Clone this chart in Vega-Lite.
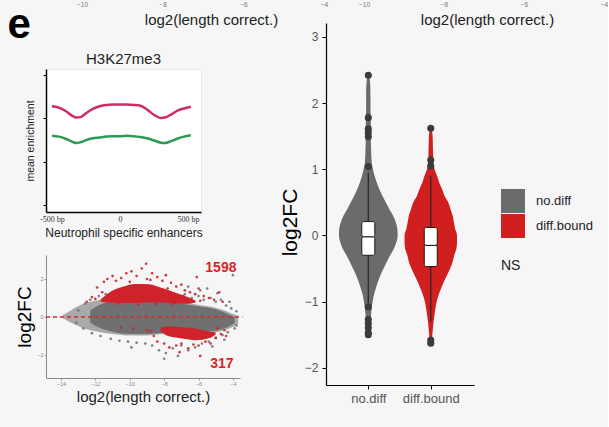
{
  "$schema": "https://vega.github.io/schema/vega-lite/v6.json",
  "background": "#f6f6f6",
  "padding": {"left": 7, "top": 0, "right": 0, "bottom": 0},
  "config": {"font": "Liberation Sans", "view": {"stroke": null}, "axis": {"grid": false}},
  "datasets": {
    "violin": [
      {"g":"no.diff","v":2.42,"xa":0.99,"xb":1.01},{"g":"no.diff","v":2.3,"xa":0.97,"xb":1.03},{"g":"no.diff","v":2.1,"xa":0.965,"xb":1.035},{"g":"no.diff","v":1.9,"xa":0.965,"xb":1.035},{"g":"no.diff","v":1.7,"xa":0.96,"xb":1.04},{"g":"no.diff","v":1.5,"xa":0.96,"xb":1.04},{"g":"no.diff","v":1.3,"xa":0.955,"xb":1.045},{"g":"no.diff","v":1.1,"xa":0.945,"xb":1.055},{"g":"no.diff","v":1.0,"xa":0.925,"xb":1.075},{"g":"no.diff","v":0.9,"xa":0.9,"xb":1.1},{"g":"no.diff","v":0.8,"xa":0.865,"xb":1.135},{"g":"no.diff","v":0.7,"xa":0.825,"xb":1.175},{"g":"no.diff","v":0.6,"xa":0.775,"xb":1.225},{"g":"no.diff","v":0.5,"xa":0.72,"xb":1.28},{"g":"no.diff","v":0.4,"xa":0.665,"xb":1.335},{"g":"no.diff","v":0.3,"xa":0.605,"xb":1.395},{"g":"no.diff","v":0.2,"xa":0.56,"xb":1.44},{"g":"no.diff","v":0.1,"xa":0.535,"xb":1.465},{"g":"no.diff","v":0.0,"xa":0.53,"xb":1.47},{"g":"no.diff","v":-0.1,"xa":0.55,"xb":1.45},{"g":"no.diff","v":-0.2,"xa":0.59,"xb":1.41},{"g":"no.diff","v":-0.3,"xa":0.65,"xb":1.35},{"g":"no.diff","v":-0.4,"xa":0.705,"xb":1.295},{"g":"no.diff","v":-0.5,"xa":0.755,"xb":1.245},{"g":"no.diff","v":-0.6,"xa":0.805,"xb":1.195},{"g":"no.diff","v":-0.7,"xa":0.845,"xb":1.155},{"g":"no.diff","v":-0.8,"xa":0.88,"xb":1.12},{"g":"no.diff","v":-0.9,"xa":0.91,"xb":1.09},{"g":"no.diff","v":-1.0,"xa":0.93,"xb":1.07},{"g":"no.diff","v":-1.1,"xa":0.945,"xb":1.055},{"g":"no.diff","v":-1.2,"xa":0.955,"xb":1.045},{"g":"no.diff","v":-1.3,"xa":0.96,"xb":1.04},{"g":"no.diff","v":-1.4,"xa":0.965,"xb":1.035},{"g":"no.diff","v":-1.5,"xa":0.985,"xb":1.015},
      {"g":"diff.bound","v":1.63,"xa":1.99,"xb":2.01},{"g":"diff.bound","v":1.5,"xa":1.97,"xb":2.03},{"g":"diff.bound","v":1.3,"xa":1.965,"xb":2.035},{"g":"diff.bound","v":1.1,"xa":1.955,"xb":2.045},{"g":"diff.bound","v":1.0,"xa":1.94,"xb":2.06},{"g":"diff.bound","v":0.9,"xa":1.9,"xb":2.1},{"g":"diff.bound","v":0.8,"xa":1.865,"xb":2.135},{"g":"diff.bound","v":0.7,"xa":1.82,"xb":2.18},{"g":"diff.bound","v":0.6,"xa":1.78,"xb":2.22},{"g":"diff.bound","v":0.5,"xa":1.72,"xb":2.28},{"g":"diff.bound","v":0.4,"xa":1.685,"xb":2.315},{"g":"diff.bound","v":0.3,"xa":1.65,"xb":2.35},{"g":"diff.bound","v":0.2,"xa":1.63,"xb":2.37},{"g":"diff.bound","v":0.1,"xa":1.61,"xb":2.39},{"g":"diff.bound","v":0.0,"xa":1.58,"xb":2.42},{"g":"diff.bound","v":-0.1,"xa":1.58,"xb":2.42},{"g":"diff.bound","v":-0.2,"xa":1.59,"xb":2.41},{"g":"diff.bound","v":-0.3,"xa":1.625,"xb":2.375},{"g":"diff.bound","v":-0.4,"xa":1.65,"xb":2.35},{"g":"diff.bound","v":-0.5,"xa":1.69,"xb":2.31},{"g":"diff.bound","v":-0.6,"xa":1.74,"xb":2.26},{"g":"diff.bound","v":-0.7,"xa":1.79,"xb":2.21},{"g":"diff.bound","v":-0.8,"xa":1.835,"xb":2.165},{"g":"diff.bound","v":-0.9,"xa":1.875,"xb":2.125},{"g":"diff.bound","v":-1.0,"xa":1.905,"xb":2.095},{"g":"diff.bound","v":-1.1,"xa":1.925,"xb":2.075},{"g":"diff.bound","v":-1.2,"xa":1.94,"xb":2.06},{"g":"diff.bound","v":-1.3,"xa":1.955,"xb":2.045},{"g":"diff.bound","v":-1.4,"xa":1.965,"xb":2.035},{"g":"diff.bound","v":-1.5,"xa":1.975,"xb":2.025},{"g":"diff.bound","v":-1.6,"xa":1.985,"xb":2.015},{"g":"diff.bound","v":-1.64,"xa":1.995,"xb":2.005}
    ],
    "box": [
      {"g":"no.diff","part":"whisker","xa":1,"v":-1.03,"v2":0.95},
      {"g":"no.diff","part":"lower","xa":1,"v":-0.30,"v2":-0.02},
      {"g":"no.diff","part":"upper","xa":1,"v":-0.02,"v2":0.21},
      {"g":"diff.bound","part":"whisker","xa":2,"v":-1.3,"v2":0.9},
      {"g":"diff.bound","part":"lower","xa":2,"v":-0.47,"v2":-0.15},
      {"g":"diff.bound","part":"upper","xa":2,"v":-0.15,"v2":0.12}
    ],
    "outl": [
      {"g":"no.diff","xa":1,"v":2.42},{"g":"no.diff","xa":1,"v":1.78},{"g":"no.diff","xa":1,"v":1.61},{"g":"no.diff","xa":1,"v":1.55},{"g":"no.diff","xa":1,"v":1.49},{"g":"no.diff","xa":1,"v":1.04},{"g":"no.diff","xa":1,"v":-1.08},{"g":"no.diff","xa":1,"v":-1.27},{"g":"no.diff","xa":1,"v":-1.33},{"g":"no.diff","xa":1,"v":-1.4},{"g":"no.diff","xa":1,"v":-1.47},{"g":"no.diff","xa":1,"v":-1.5},
      {"g":"diff.bound","xa":2,"v":1.62},{"g":"diff.bound","xa":2,"v":1.14},{"g":"diff.bound","xa":2,"v":1.05},{"g":"diff.bound","xa":2,"v":-1.58},{"g":"diff.bound","xa":2,"v":-1.63}
    ],
    "profile": [
      {"series":"upper","pos":-500,"enr":2.28},{"series":"upper","pos":-450,"enr":2.25},{"series":"upper","pos":-400,"enr":2.17},{"series":"upper","pos":-350,"enr":2.06},{"series":"upper","pos":-320,"enr":2.02},{"series":"upper","pos":-290,"enr":2.03},{"series":"upper","pos":-250,"enr":2.12},{"series":"upper","pos":-200,"enr":2.22},{"series":"upper","pos":-150,"enr":2.28},{"series":"upper","pos":-100,"enr":2.31},{"series":"upper","pos":-50,"enr":2.32},{"series":"upper","pos":0,"enr":2.32},{"series":"upper","pos":50,"enr":2.32},{"series":"upper","pos":100,"enr":2.31},{"series":"upper","pos":150,"enr":2.29},{"series":"upper","pos":200,"enr":2.2},{"series":"upper","pos":250,"enr":2.08},{"series":"upper","pos":300,"enr":2.01},{"series":"upper","pos":330,"enr":2.02},{"series":"upper","pos":380,"enr":2.1},{"series":"upper","pos":430,"enr":2.19},{"series":"upper","pos":470,"enr":2.23},{"series":"upper","pos":520,"enr":2.27},
      {"series":"lower","pos":-500,"enr":1.6},{"series":"lower","pos":-450,"enr":1.58},{"series":"lower","pos":-400,"enr":1.53},{"series":"lower","pos":-350,"enr":1.46},{"series":"lower","pos":-320,"enr":1.43},{"series":"lower","pos":-290,"enr":1.45},{"series":"lower","pos":-250,"enr":1.5},{"series":"lower","pos":-200,"enr":1.54},{"series":"lower","pos":-150,"enr":1.56},{"series":"lower","pos":-100,"enr":1.58},{"series":"lower","pos":-50,"enr":1.59},{"series":"lower","pos":0,"enr":1.59},{"series":"lower","pos":50,"enr":1.6},{"series":"lower","pos":100,"enr":1.59},{"series":"lower","pos":150,"enr":1.57},{"series":"lower","pos":200,"enr":1.54},{"series":"lower","pos":250,"enr":1.49},{"series":"lower","pos":300,"enr":1.44},{"series":"lower","pos":330,"enr":1.43},{"series":"lower","pos":370,"enr":1.47},{"series":"lower","pos":420,"enr":1.53},{"series":"lower","pos":470,"enr":1.58},{"series":"lower","pos":520,"enr":1.61}
    ],
    "maArea": [
      {"grp":"halo","A":-13.9,"M":-0.05,"M2":0.1},{"grp":"halo","A":-13.4,"M":-0.3,"M2":0.36},{"grp":"halo","A":-12.8,"M":-0.55,"M2":0.65},{"grp":"halo","A":-12.0,"M":-0.75,"M2":0.85},{"grp":"halo","A":-11.0,"M":-0.9,"M2":0.98},{"grp":"halo","A":-10.0,"M":-0.98,"M2":1.04},{"grp":"halo","A":-9.0,"M":-0.98,"M2":1.0},{"grp":"halo","A":-8.0,"M":-0.9,"M2":0.88},{"grp":"halo","A":-7.0,"M":-0.9,"M2":0.78},{"grp":"halo","A":-6.0,"M":-0.85,"M2":0.64},{"grp":"halo","A":-5.0,"M":-0.8,"M2":0.48},{"grp":"halo","A":-4.2,"M":-0.6,"M2":0.24},{"grp":"halo","A":-3.7,"M":-0.4,"M2":0.06},
      {"grp":"core","A":-12.3,"M":-0.3,"M2":0.35},{"grp":"core","A":-11.8,"M":-0.55,"M2":0.62},{"grp":"core","A":-11.0,"M":-0.78,"M2":0.85},{"grp":"core","A":-10.0,"M":-0.9,"M2":0.95},{"grp":"core","A":-9.0,"M":-0.9,"M2":0.92},{"grp":"core","A":-8.0,"M":-0.83,"M2":0.8},{"grp":"core","A":-7.0,"M":-0.83,"M2":0.7},{"grp":"core","A":-6.0,"M":-0.78,"M2":0.56},{"grp":"core","A":-5.0,"M":-0.72,"M2":0.4},{"grp":"core","A":-4.3,"M":-0.53,"M2":0.16},{"grp":"core","A":-3.9,"M":-0.33,"M2":0.0},
      {"grp":"up","A":-11.7,"M":0.82,"M2":0.92},{"grp":"up","A":-11.21,"M":0.76,"M2":1.28},{"grp":"up","A":-10.46,"M":0.74,"M2":1.58},{"grp":"up","A":-9.66,"M":0.74,"M2":1.74},{"grp":"up","A":-8.89,"M":0.76,"M2":1.72},{"grp":"up","A":-8.11,"M":0.76,"M2":1.52},{"grp":"up","A":-7.34,"M":0.7,"M2":1.28},{"grp":"up","A":-6.56,"M":0.7,"M2":1.02},{"grp":"up","A":-6.17,"M":0.76,"M2":0.86},
      {"grp":"down","A":-8.21,"M":-0.77,"M2":-0.55},{"grp":"down","A":-7.73,"M":-1.02,"M2":-0.5},{"grp":"down","A":-6.95,"M":-1.13,"M2":-0.55},{"grp":"down","A":-6.17,"M":-1.22,"M2":-0.6},{"grp":"down","A":-5.4,"M":-1.12,"M2":-0.76},{"grp":"down","A":-5.01,"M":-0.93,"M2":-0.81}
    ],
    "maPts": [
      {"sig":"ns","A":-13.0,"M":0.35},{"sig":"ns","A":-12.6,"M":0.7},{"sig":"ns","A":-12.3,"M":0.9},{"sig":"ns","A":-11.8,"M":1.1},{"sig":"ns","A":-11.4,"M":1.2},{"sig":"ns","A":-10.9,"M":1.25},{"sig":"ns","A":-10.4,"M":1.3},{"sig":"ns","A":-9.8,"M":1.2},{"sig":"ns","A":-9.3,"M":1.15},{"sig":"ns","A":-8.6,"M":1.1},{"sig":"ns","A":-8.2,"M":1.25},{"sig":"ns","A":-7.7,"M":1.15},{"sig":"ns","A":-7.2,"M":1.0},{"sig":"ns","A":-6.8,"M":1.2},{"sig":"ns","A":-6.4,"M":1.0},{"sig":"ns","A":-6.0,"M":1.1},{"sig":"ns","A":-5.7,"M":0.9},{"sig":"ns","A":-5.3,"M":1.0},{"sig":"ns","A":-5.0,"M":0.8},{"sig":"ns","A":-4.7,"M":0.9},{"sig":"ns","A":-4.4,"M":0.6},{"sig":"ns","A":-4.1,"M":0.45},{"sig":"ns","A":-3.8,"M":0.3},{"sig":"ns","A":-5.9,"M":1.4},{"sig":"ns","A":-4.9,"M":1.25},{"sig":"ns","A":-4.2,"M":0.8},{"sig":"ns","A":-4.0,"M":2.2},{"sig":"ns","A":-6.6,"M":1.6},{"sig":"ns","A":-5.5,"M":1.5},
      {"sig":"ns","A":-13.1,"M":-0.3},{"sig":"ns","A":-12.7,"M":-0.6},{"sig":"ns","A":-12.2,"M":-0.85},{"sig":"ns","A":-11.7,"M":-1.0},{"sig":"ns","A":-11.1,"M":-1.15},{"sig":"ns","A":-10.6,"M":-1.25},{"sig":"ns","A":-10.1,"M":-1.3},{"sig":"ns","A":-9.6,"M":-1.35},{"sig":"ns","A":-9.1,"M":-1.4},{"sig":"ns","A":-8.7,"M":-1.5},{"sig":"ns","A":-8.3,"M":-1.75},{"sig":"ns","A":-7.9,"M":-1.9},{"sig":"ns","A":-7.5,"M":-1.65},{"sig":"ns","A":-7.0,"M":-1.5},{"sig":"ns","A":-6.6,"M":-1.75},{"sig":"ns","A":-6.2,"M":-1.6},{"sig":"ns","A":-5.8,"M":-1.4},{"sig":"ns","A":-5.4,"M":-1.3},{"sig":"ns","A":-5.0,"M":-1.1},{"sig":"ns","A":-4.6,"M":-0.95},{"sig":"ns","A":-4.3,"M":-0.8},{"sig":"ns","A":-3.9,"M":-0.6},{"sig":"ns","A":-3.8,"M":-0.45},{"sig":"ns","A":-9.9,"M":-1.6},{"sig":"ns","A":-8.0,"M":-2.2},{"sig":"ns","A":-7.2,"M":-2.05},{"sig":"ns","A":-5.2,"M":-1.55},{"sig":"ns","A":-4.5,"M":-1.2},
      {"sig":"de","A":-12.2,"M":1.05},{"sig":"de","A":-12.0,"M":0.95},{"sig":"de","A":-11.9,"M":1.55},{"sig":"de","A":-11.5,"M":1.85},{"sig":"de","A":-11.3,"M":2.0},{"sig":"de","A":-11.0,"M":2.15},{"sig":"de","A":-10.8,"M":1.9},{"sig":"de","A":-10.5,"M":2.05},{"sig":"de","A":-10.2,"M":2.3},{"sig":"de","A":-9.9,"M":2.4},{"sig":"de","A":-9.6,"M":2.15},{"sig":"de","A":-9.3,"M":2.55},{"sig":"de","A":-9.05,"M":2.8},{"sig":"de","A":-9.0,"M":2.0},{"sig":"de","A":-8.7,"M":2.3},{"sig":"de","A":-8.4,"M":2.1},{"sig":"de","A":-8.1,"M":1.9},{"sig":"de","A":-7.9,"M":2.2},{"sig":"de","A":-7.6,"M":1.8},{"sig":"de","A":-7.3,"M":1.6},{"sig":"de","A":-7.0,"M":1.7},{"sig":"de","A":-6.8,"M":1.4},{"sig":"de","A":-6.5,"M":1.3},{"sig":"de","A":-6.2,"M":1.2},{"sig":"de","A":-6.1,"M":2.1},{"sig":"de","A":-6.0,"M":1.5},{"sig":"de","A":-5.7,"M":1.1},{"sig":"de","A":-5.4,"M":1.0},{"sig":"de","A":-5.1,"M":0.9},{"sig":"de","A":-4.8,"M":1.3},{"sig":"de","A":-4.6,"M":0.8},{"sig":"de","A":-12.5,"M":0.8},{"sig":"de","A":-10.7,"M":0.7},{"sig":"de","A":-9.5,"M":0.65},{"sig":"de","A":-8.5,"M":0.7},{"sig":"de","A":-7.5,"M":0.7},{"sig":"de","A":-11.6,"M":1.3},{"sig":"de","A":-10.0,"M":1.85},{"sig":"de","A":-8.8,"M":1.95},{"sig":"de","A":-7.8,"M":1.5},{"sig":"de","A":-5.9,"M":0.85},{"sig":"de","A":-6.9,"M":1.1},
      {"sig":"de","A":-10.5,"M":-0.55},{"sig":"de","A":-9.8,"M":-0.6},{"sig":"de","A":-9.0,"M":-0.7},{"sig":"de","A":-8.6,"M":-1.0},{"sig":"de","A":-8.4,"M":-1.3},{"sig":"de","A":-8.0,"M":-1.4},{"sig":"de","A":-7.7,"M":-1.6},{"sig":"de","A":-7.3,"M":-1.5},{"sig":"de","A":-7.0,"M":-1.4},{"sig":"de","A":-6.6,"M":-1.65},{"sig":"de","A":-6.3,"M":-1.45},{"sig":"de","A":-6.0,"M":-1.5},{"sig":"de","A":-5.6,"M":-1.3},{"sig":"de","A":-5.3,"M":-1.4},{"sig":"de","A":-5.0,"M":-1.1},{"sig":"de","A":-4.7,"M":-0.9},{"sig":"de","A":-4.5,"M":-0.7},{"sig":"de","A":-4.9,"M":-0.6},{"sig":"de","A":-5.9,"M":-2.05},{"sig":"de","A":-7.1,"M":-1.85},{"sig":"de","A":-8.8,"M":-0.75},{"sig":"de","A":-4.4,"M":-1.0}
    ],
    "maText": [
      {"label":"1598","A":-4.7,"M":2.6},
      {"label":"317","A":-4.64,"M":-2.47}
    ]
  },
  "columns": 2,
  "bounds": "flush",
  "spacing": {"row": 43, "column": 2},
  "concat": [
    {
      "width": 278, "height": 26,
      "data": {"values": []},
      "mark": {"type": "point", "opacity": 0},
      "encoding": {
        "x": {"field": "L", "type": "quantitative", "scale": {"domain": [-10.893, -4], "nice": false, "zero": false},
          "axis": {"orient": "bottom", "offset": -26, "values": [-10, -8, -6, -4], "domain": false, "ticks": false, "labelOverlap": false, "labelFontSize": 6.5, "labelColor": "#777", "labelPadding": 1, "labelFlush": false, "title": "log2(length correct.)", "titleFontSize": 15, "titleFontWeight": "normal", "titleColor": "#222", "titleX": 165, "titleY": 12, "titleBaseline": "top"}},
        "y": {"field": "E", "type": "quantitative", "scale": {"domain": [0, 1]},
          "axis": {"domain": false, "ticks": false, "labels": false, "title": "e", "titleAngle": 0, "titleFontSize": 42, "titleFontWeight": "bold", "titleColor": "#000", "titleX": -39, "titleY": 37, "titleAlign": "left", "titleBaseline": "alphabetic"}}
      }
    },
    {
      "width": 278, "height": 26,
      "data": {"values": []},
      "mark": {"type": "point", "opacity": 0},
      "encoding": {
        "x": {"field": "L", "type": "quantitative", "scale": {"domain": [-10.95, -4], "nice": false, "zero": false},
          "axis": {"orient": "bottom", "offset": -26, "values": [-10, -8, -6, -4], "domain": false, "ticks": false, "labelOverlap": false, "labelFontSize": 6.5, "labelColor": "#777", "labelPadding": 1, "labelFlush": false, "title": "log2(length correct.)", "titleFontSize": 15, "titleFontWeight": "normal", "titleColor": "#222", "titleX": 161, "titleY": 12, "titleBaseline": "top"}}
      }
    },
    {
      "width": 155, "height": 143,
      "view": {"fill": "#ffffff", "stroke": "#e8e8e8"},
      "title": {"text": "H3K27me3", "fontSize": 15, "fontWeight": "normal", "color": "#222", "offset": 2},
      "data": {"name": "profile"},
      "encoding": {
        "x": {"field": "pos", "type": "quantitative", "scale": {"domain": [-544, 595], "nice": false, "zero": false},
          "axis": {"values": [-500, 0, 500], "labelExpr": "datum.value == 0 ? '0' : datum.value + ' bp'", "labelFont": "Liberation Serif", "labelFontSize": 8, "labelColor": "#333", "ticks": false, "labelPadding": 3, "labelFlush": false, "labelOverlap": false, "domainColor": "#000", "domainWidth": 1.5, "title": "Neutrophil specific enhancers", "titleFontSize": 12, "titleFontWeight": "normal", "titleColor": "#222", "titlePadding": 4}},
        "y": {"field": "enr", "type": "quantitative", "scale": {"domain": [-0.16, 3.14], "nice": false, "zero": false},
          "axis": {"values": [0, 1, 2, 3], "labels": false, "tickSize": 3, "tickColor": "#000", "domainColor": "#000", "domainWidth": 1.5, "title": "mean enrichment", "titleFontSize": 10.5, "titleFontWeight": "normal", "titleColor": "#222", "titlePadding": 7}}
      },
      "layer": [
        {"transform": [{"filter": "datum.series == 'upper'"}], "mark": {"type": "line", "color": "#cf2b63", "strokeWidth": 2.5, "interpolate": "monotone"}},
        {"transform": [{"filter": "datum.series == 'lower'"}], "mark": {"type": "line", "color": "#2e9b54", "strokeWidth": 2.5, "interpolate": "monotone"}}
      ]
    },
    {
      "width": 148, "height": 143,
      "encoding": {
        "y": {"field": "v", "type": "quantitative", "scale": {"domain": [-2.26, 3.21], "range": [316, -46], "nice": false, "zero": false},
          "axis": {"title": "log2FC", "titleFontSize": 21, "titleFontWeight": "normal", "titleColor": "#000", "titlePadding": 4, "titleY": 153, "values": [-2, -1, 0, 1, 2, 3], "labelOverlap": false, "labelFontSize": 12, "labelColor": "#555", "labelPadding": 4, "tickSize": 4, "tickColor": "#000", "domainColor": "#000", "domainWidth": 1.2}},
        "x": {"field": "xa", "type": "quantitative", "scale": {"domain": [0.403, 2.612], "nice": false, "zero": false},
          "axis": {"title": null, "orient": "bottom", "offset": 173, "values": [1, 2], "labelExpr": "datum.value == 1 ? 'no.diff' : 'diff.bound'", "labelOverlap": false, "labelFlush": false, "domainColor": "#000", "domainWidth": 1.2, "tickColor": "#000", "tickSize": 4, "labelFontSize": 13, "labelColor": "#555", "labelPadding": 3}}
      },
      "layer": [
        {
          "data": {"name": "violin"},
          "mark": {"type": "area", "orient": "horizontal", "interpolate": "monotone"},
          "encoding": {
            "x2": {"field": "xb"},
            "color": {"field": "g", "type": "nominal", "scale": {"domain": ["no.diff", "diff.bound"], "range": ["#6b6b6b", "#d11f1f"]},
              "legend": {"orient": "none", "legendX": 455, "legendY": 189, "title": "NS", "titleOrient": "bottom", "titleAnchor": "start", "titleFontSize": 14, "titleFontWeight": "normal", "titleColor": "#222", "titlePadding": 21, "symbolType": "square", "symbolSize": 576, "symbolStrokeWidth": 0, "symbolOpacity": 1, "labelFontSize": 13, "labelColor": "#222", "labelOffset": 11, "rowPadding": 1, "padding": 0}}
          }
        },
        {
          "data": {"name": "box"},
          "transform": [{"filter": "datum.part == 'whisker'"}],
          "mark": {"type": "rule", "color": "#2a2a2a", "strokeWidth": 1.3},
          "encoding": {"y2": {"field": "v2"}}
        },
        {
          "data": {"name": "outl"},
          "mark": {"type": "circle", "size": 50, "color": "#3b3b3b", "opacity": 1}
        },
        {
          "data": {"name": "box"},
          "transform": [{"filter": "datum.part != 'whisker'"}],
          "mark": {"type": "bar", "width": 13, "fill": "#ffffff", "stroke": "#1a1a1a", "strokeWidth": 1, "cornerRadius": 2},
          "encoding": {"y2": {"field": "v2"}}
        }
      ]
    },
    {
      "width": 194, "height": 123,
      "encoding": {
        "x": {"field": "A", "type": "quantitative", "scale": {"domain": [-14.87, -3.59], "nice": false, "zero": false},
          "axis": {"values": [-14, -12, -10, -8, -6, -4], "labelOverlap": false, "labelFontSize": 5.5, "labelColor": "#888", "tickSize": 2, "tickColor": "#999", "domainColor": "#8a8a8a", "labelPadding": 1, "labelFlush": false, "title": "log2(length correct.)", "titleFontSize": 15, "titleFontWeight": "normal", "titleColor": "#222", "titlePadding": 3}},
        "y": {"field": "M", "type": "quantitative", "scale": {"domain": [-3.21, 3.26], "nice": false, "zero": false},
          "axis": {"values": [-2, 0, 2], "labelOverlap": false, "labelFontSize": 5.5, "labelColor": "#888", "tickSize": 2, "tickColor": "#999", "domainColor": "#8a8a8a", "labelPadding": 1, "title": "log2FC", "titleFontSize": 19, "titleFontWeight": "normal", "titleColor": "#000", "titlePadding": 2}}
      },
      "layer": [
        {
          "data": {"name": "maArea"},
          "transform": [{"filter": "datum.grp == 'halo'"}],
          "mark": {"type": "area", "color": "#a9a9a9", "interpolate": "monotone"},
          "encoding": {"y2": {"field": "M2"}}
        },
        {
          "data": {"name": "maArea"},
          "transform": [{"filter": "datum.grp == 'core'"}],
          "mark": {"type": "area", "color": "#707070", "interpolate": "monotone"},
          "encoding": {"y2": {"field": "M2"}}
        },
        {
          "data": {"name": "maPts"},
          "transform": [{"filter": "datum.sig == 'ns'"}],
          "mark": {"type": "circle", "size": 7, "color": "#747474", "opacity": 0.9}
        },
        {
          "data": {"name": "maArea"},
          "transform": [{"filter": "datum.grp == 'up' || datum.grp == 'down'"}],
          "mark": {"type": "area", "color": "#d0222a", "interpolate": "monotone"},
          "encoding": {"y2": {"field": "M2"}, "detail": {"field": "grp"}}
        },
        {
          "data": {"name": "maPts"},
          "transform": [{"filter": "datum.sig == 'de'"}],
          "mark": {"type": "circle", "size": 7, "color": "#cf2229", "opacity": 0.9}
        },
        {
          "data": {"values": [{"A": -14.87, "A2": -3.45, "M": 0}]},
          "mark": {"type": "rule", "color": "#e0242b", "strokeWidth": 1.5, "strokeDash": [4, 3]},
          "encoding": {"x2": {"field": "A2"}}
        },
        {
          "data": {"name": "maText"},
          "mark": {"type": "text", "fontSize": 14, "fontWeight": "bold", "color": "#d8262d"},
          "encoding": {"text": {"field": "label"}}
        }
      ]
    }
  ]
}
